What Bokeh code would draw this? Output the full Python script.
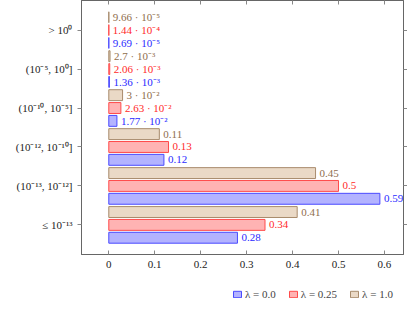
from bokeh.plotting import figure
from bokeh.models import (ColumnDataSource, FixedTicker, LinearAxis, Range1d,
                          Legend, LegendItem)
from bokeh.layouts import column
from bokeh.embed import file_html
from bokeh.resources import INLINE
from bokeh.core.properties import value
import math

# ---- data ----
groups = ["≤ 10⁻¹³", "(10⁻¹³, 10⁻¹²]", "(10⁻¹², 10⁻¹⁰]",
          "(10⁻¹⁰, 10⁻⁵]", "(10⁻⁵, 10⁰]", "> 10⁰"]
lam_00 = [0.28, 0.59, 0.12, 1.77e-2, 1.36e-3, 9.69e-5]
lam_025 = [0.34, 0.5, 0.13, 2.63e-2, 2.06e-3, 1.44e-4]
lam_10 = [0.41, 0.45, 0.11, 3e-2, 2.7e-3, 9.66e-5]
series_names = ["λ = 0.0", "λ = 0.25", "λ = 1.0"]
x_ticks = [0, 0.1, 0.2, 0.3, 0.4, 0.5, 0.6]

SUP = str.maketrans("-0123456789", "⁻⁰¹²³⁴⁵⁶⁷⁸⁹")


def fmt(v):
    if v >= 0.1:
        return "%g" % v
    e = int(math.floor(math.log10(v)))
    m = round(v / 10 ** e, 2)
    return "%g · 10%s" % (m, str(e).translate(SUP))


FONT = "Liberation Serif"
fill_cols = ["#b3b3ff", "#ffb3b3", "#ead9c6"]
line_cols = ["#4a4aff", "#ff4a4a", "#a88b6c"]
text_cols = ["#2a2aff", "#ff2a2a", "#8f6e4d"]
offsets = [-0.33, 0.0, 0.33]
bar_h = 0.28

p = figure(frame_width=322, frame_height=254, output_backend="svg",
           toolbar_location=None,
           x_range=Range1d(-0.0594, 0.6414), y_range=Range1d(-0.76, 5.76),
           min_border_left=81, min_border_right=4, min_border_top=0,
           min_border_bottom=0)
p.grid.visible = False
p.outline_line_color = "#666666"
p.outline_line_width = 1

# separate strip (no axes) that only carries the legend below the chart;
# its y range lies far away from the data so the bars themselves are not shown
leg = figure(width=407, height=32, output_backend="svg", toolbar_location=None,
             x_range=Range1d(0, 1), y_range=Range1d(100, 101),
             x_axis_location=None, y_axis_location=None, min_border=0)
leg.grid.visible = False
leg.outline_line_color = None

items = []
for vals, name, fc, lc, tc, off in zip([lam_00, lam_025, lam_10], series_names,
                                        fill_cols, line_cols, text_cols, offsets):
    src = ColumnDataSource(dict(
        y=[i + off for i in range(len(groups))],
        x=vals,
        lab=[fmt(v) for v in vals],
    ))
    p.hbar(y="y", right="x", left=0, height=bar_h, source=src,
           fill_color=fc, line_color=lc, line_width=1)
    p.text(x="x", y="y", text="lab", source=src, x_offset=4,
           text_baseline="middle", text_align="left", text_color=tc,
           text_font=value(FONT), text_font_size="11px")
    r = leg.hbar(y="y", right="x", left=0, height=bar_h, source=src,
                 fill_color=fc, line_color=lc, line_width=1)
    items.append(LegendItem(label=name, renderers=[r]))

# axes styling
xa = p.xaxis[0]
xa.ticker = FixedTicker(ticks=x_ticks)
xa.major_label_overrides = {0: "0"}
xa.minor_tick_line_color = None
xa.major_tick_in = 4
xa.major_tick_out = 0
xa.axis_line_color = "#666666"
xa.major_tick_line_color = "#888888"
xa.major_label_text_font = FONT
xa.major_label_text_font_size = "11px"
xa.major_label_text_color = "#222222"
xa.major_label_standoff = 6

ya = p.yaxis[0]
ya.ticker = FixedTicker(ticks=list(range(len(groups))))
ya.major_label_overrides = {i: g for i, g in enumerate(groups)}
ya.minor_tick_line_color = None
ya.major_tick_in = 0
ya.major_tick_out = 4
ya.axis_line_color = "#666666"
ya.major_tick_line_color = "#888888"
ya.major_label_text_font = FONT
ya.major_label_text_font_size = "11px"
ya.major_label_text_color = "#222222"
ya.major_label_standoff = 5

top = LinearAxis(ticker=FixedTicker(ticks=x_ticks), major_tick_in=4,
                 major_tick_out=0, minor_tick_line_color=None,
                 axis_line_color="#666666", major_tick_line_color="#888888",
                 major_label_overrides={t: "" for t in x_ticks},
                 major_label_text_font_size="1px", major_label_standoff=0)
p.add_layout(top, "above")
right = LinearAxis(ticker=FixedTicker(ticks=list(range(len(groups)))),
                   major_tick_in=0, major_tick_out=4, minor_tick_line_color=None,
                   axis_line_color="#666666", major_tick_line_color="#888888",
                   major_label_overrides={i: "" for i in range(len(groups))},
                   major_label_text_font_size="1px", major_label_standoff=0)
p.add_layout(right, "right")

legend = Legend(items=items, orientation="horizontal", location=(151, 1),
                border_line_color=None, background_fill_alpha=0,
                label_text_font=FONT, label_text_font_size="11px",
                label_height=14, glyph_width=10, glyph_height=8, spacing=12,
                label_standoff=3, padding=2, margin=0)
leg.add_layout(legend)

open("out.html", "w").write(file_html(column(p, leg), INLINE))
